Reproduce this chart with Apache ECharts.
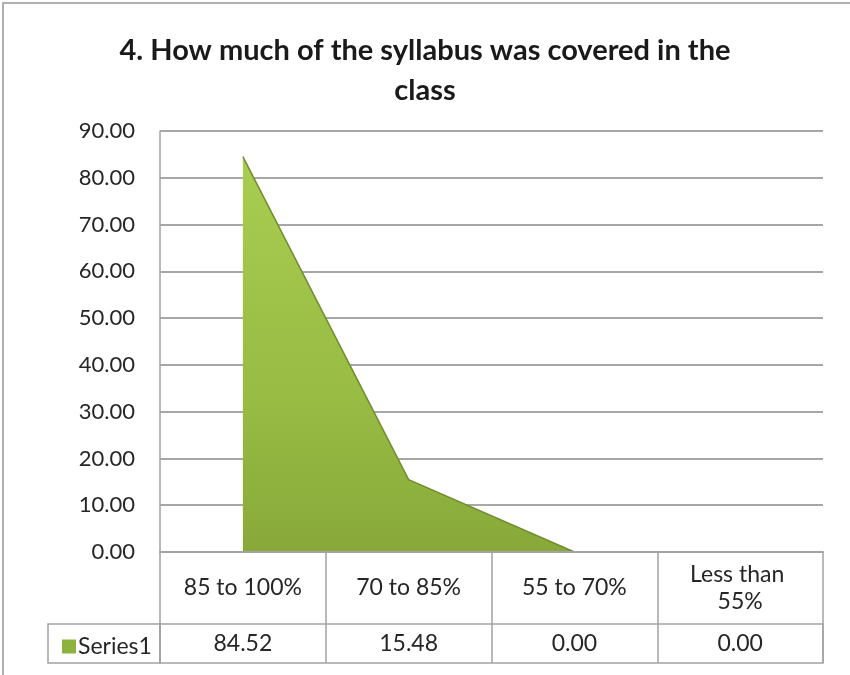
<!doctype html>
<html>
<head>
<meta charset="utf-8">
<title>Syllabus covered</title>
<script src="https://cdn.jsdelivr.net/npm/echarts@6/dist/echarts.min.js"></script>
<style>
  html, body { margin: 0; padding: 0; background: #fff; }
  #chart { width: 850px; height: 675px; }
</style>
</head>
<body>
<div id="chart"></div>
<script>
var titleText = '4. How much of the syllabus was covered in the\nclass';
var categories = ['85 to 100%', '70 to 85%', '55 to 70%', 'Less than 55%'];
var series1 = [84.52, 15.48, 0.00, 0.00];
var yTicks = { min: 0, max: 90, step: 10 };

var font = 'Lato, "Open Sans", sans-serif';
var gridGray = '#8a8a8a';
var tableGray = '#a3a3a3';
var textColor = '#262626';

var chart = echarts.init(document.getElementById('chart'));

chart.setOption({
  backgroundColor: '#fff',
  animation: false,
  title: {
    text: titleText,
    left: 'center',
    top: 26,
    textStyle: {
      fontFamily: font,
      fontWeight: 'bold',
      fontSize: 29,
      lineHeight: 40,
      color: '#1a1a1a'
    }
  },
  legend: {
    left: 57,
    top: 630,
    icon: 'rect',
    itemWidth: 14,
    itemHeight: 14,
    data: ['Series1'],
    textStyle: { fontFamily: font, fontSize: 23, color: textColor, padding: [0, 0, 0, -3] }
  },
  graphic: [{
    type: 'rect',
    shape: { x: 3, y: 3, width: 900, height: 720 },
    style: { fill: null, stroke: '#b0b0b0', lineWidth: 2 },
    silent: true
  }],
  grid: [
    { left: 160, right: 27, top: 131, bottom: 123 },
    { left: 160, right: 27, top: 624, bottom: 12, show: true, borderColor: tableGray, borderWidth: 1.5 },
    { left: 48, width: 112, top: 624, bottom: 12, show: true, borderColor: tableGray, borderWidth: 1.5 }
  ],
  xAxis: [
    {
      gridIndex: 0,
      type: 'category',
      data: categories,
      boundaryGap: true,
      z: 5,
      axisLine: { show: true, lineStyle: { color: tableGray, width: 2 } },
      axisTick: { show: true, interval: 0, length: 111, lineStyle: { color: tableGray, width: 1.5 } },
      axisLabel: {
        interval: 0,
        margin: 36,
        verticalAlign: 'middle',
        width: 128,
        overflow: 'break',
        lineHeight: 27,
        fontFamily: font,
        fontSize: 23,
        color: textColor
      }
    },
    {
      gridIndex: 1,
      type: 'category',
      data: categories,
      position: 'bottom',
      axisLine: { show: false },
      axisTick: { show: false },
      axisLabel: {
        interval: 0,
        margin: -19,
        verticalAlign: 'middle',
        fontFamily: font,
        fontSize: 23,
        color: textColor,
        formatter: function (v, i) { return series1[i].toFixed(2); }
      }
    },
    { gridIndex: 2, type: 'category', data: [''], show: false }
  ],
  yAxis: [
    {
      gridIndex: 0,
      type: 'value',
      min: yTicks.min,
      max: yTicks.max,
      interval: yTicks.step,
      axisLine: { show: true, lineStyle: { color: tableGray, width: 1.5 } },
      axisTick: { show: false },
      splitLine: { show: true, lineStyle: { color: gridGray, width: 1.5 } },
      axisLabel: {
        margin: 25,
        fontFamily: font,
        fontSize: 22,
        color: textColor,
        formatter: function (v) { return v.toFixed(2); }
      }
    },
    { gridIndex: 1, type: 'value', show: false },
    { gridIndex: 2, type: 'value', show: false }
  ],
  series: [{
    name: 'Series1',
    type: 'line',
    xAxisIndex: 0,
    yAxisIndex: 0,
    data: series1,
    symbol: 'none',
    z: 3,
    itemStyle: { color: '#8db33e' },
    lineStyle: { width: 1.5, color: '#6f8d2d' },
    areaStyle: {
      opacity: 1,
      color: new echarts.graphic.LinearGradient(0, 0, 0, 1, [
        { offset: 0, color: '#a9cd50' },
        { offset: 0.6, color: '#98bc44' },
        { offset: 1, color: '#88a93a' }
      ])
    }
  }]
});
</script>
</body>
</html>
